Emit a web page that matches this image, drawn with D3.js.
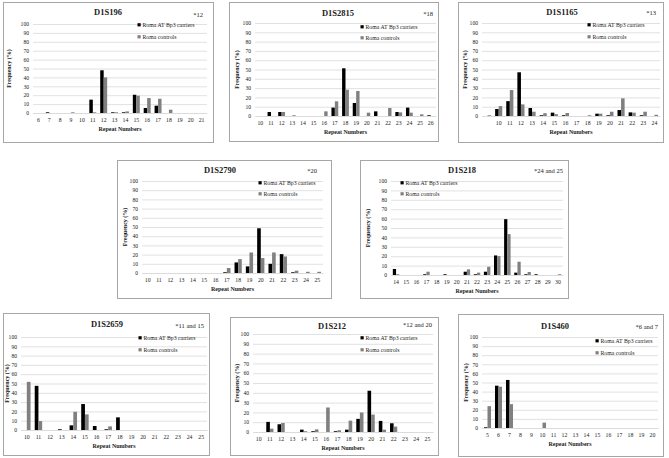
<!DOCTYPE html>
<html><head><meta charset="utf-8">
<script src="https://cdn.jsdelivr.net/npm/d3@7"></script>
<style>
html,body{margin:0;padding:0;background:#fff;}
svg text{font-family:"Liberation Serif","DejaVu Serif",serif;fill:#222;}
</style></head>
<body><svg id="c" width="669" height="458"></svg>
<script>
// ---- data ----
const seriesNames = ["Roma AT Bp3 carriers", "Roma controls"];
const yTicks = [0,10,20,30,40,50,60,70,80,90,100];

const d1s196Repeats = ["6","7","8","9","10","11","12","13","14","15","16","17","18","19","20","21"];
const d1s196Carriers = [0,0.8,0,0,0,15,48,0.8,0.8,20.5,5.6,8.2,0,0,0,0];
const d1s196Controls = [0,0,0,0.8,0,0.8,40,0.8,1.8,19.4,16.8,16,3.7,0,0,0];

const d1s2815Repeats = ["10","11","12","13","14","15","16","17","18","19","20","21","22","23","24","25","26"];
const d1s2815Carriers = [0,4.3,4.3,0,0,0,0,9,51.3,14,0,5,0,4.3,9,0,0.8];
const d1s2815Controls = [0,0,4.3,0.8,0,0,5,15.8,28.3,26.9,3.6,0,8.6,3.9,3.6,1.8,0];

const d1s1165Repeats = ["","10","11","12","13","14","15","16","17","18","19","20","21","22","23","24"];
const d1s1165Carriers = [0,7.5,16,47,8.6,0.8,3.6,0.8,0,0,2.5,0.8,6.4,3.9,0.8,0];
const d1s1165Controls = [0.8,10.7,27.9,12.5,4.6,3,2,3.2,0,0.8,2.5,4.6,19,3.6,4.6,1.3];

const d1s2790Repeats = ["10","11","12","13","14","15","16","17","18","19","20","21","22","23","24","25"];
const d1s2790Carriers = [0,0,0,0,0,0,0,0.8,11.5,7.2,48.6,10,20.5,0.8,0,0];
const d1s2790Controls = [0,0,0,0,0,0,0,5.4,15.1,22.3,16.2,22.3,18,2.5,1.3,1.3];

const d1s218Repeats = ["14","15","16","17","18","19","20","21","22","23","24","25","26","27","28","29","30"];
const d1s218Carriers = [6.4,0,0,0.8,0,0.8,0,3.5,0.8,3.5,20.8,59.4,2.5,0.8,0.8,0,0];
const d1s218Controls = [0.8,0,0,3.5,0,0,0,6,2.5,8.8,20.1,43.5,14.1,3.2,0,0,0.8];

const d1s2659Repeats = ["10","11","12","13","14","15","16","17","18","19","20","21","22","23","24","25"];
const d1s2659Carriers = [0,47.5,0,0.8,5,27.9,4.3,0.8,13.6,0,0,0,0,0,0,0];
const d1s2659Controls = [51.8,9.6,0,0,19.6,16.8,0,3.9,0,0,0,0,0,0,0,0];

const d1s212Repeats = ["10","11","12","13","14","15","16","17","18","19","20","21","22","23","24","25"];
const d1s212Carriers = [0,10.3,7.9,0,2.4,0.8,0,0.8,2.4,13.4,42.1,11.3,8.9,0,0,0];
const d1s212Controls = [0,3.4,9.2,0,0.8,2.7,25,1.8,11.6,19.9,17.8,2.4,5.5,0,0,0];

const d1s460Repeats = ["5","6","7","8","9","10","11","12","13","14","15","16","17","18","19","20"];
const d1s460Carriers = [0.8,46.5,52.8,0,0,0,0,0,0,0,0,0,0,0,0,0];
const d1s460Controls = [24,45.4,26.2,0,0,5.9,0,0,0,0,0,0,0,0,0,0];

const markerNames = ["D1S196","D1S2815","D1S1165","D1S2790","D1S218","D1S2659","D1S212","D1S460"];
const markerNotes = ["*12","*18","*13","*20","*24 and 25","*11 and 15","*12 and 20","*6 and 7"];

// ---- layout (positions only) ----
const layouts = [
  {box:[3,2,213,142],  plot:[33,207,24,113],  title:[108,12], leg:[139,25,37],  note:[203,15],  yt:9},
  {box:[229,2,438,141],plot:[255,436,23,116], title:[338,13], leg:[362,27,38],  note:[433,14],  yt:237},
  {box:[458,2,663,142],plot:[482,660,23,116], title:[562,12], leg:[589,25,37],  note:[656,13],  yt:465},
  {box:[117,160,331,298],plot:[142,323,181,273],title:[220,170],leg:[260,183,194],note:[317,171],yt:125},
  {box:[360,160,568,298],plot:[391,563,181,275],title:[462,170],leg:[402,183,194],note:[563,171],yt:368},
  {box:[3,313,209,455],plot:[21,207,337,430], title:[107,324],leg:[140,338,350],note:[204,326],yt:7},
  {box:[230,317,438,455],plot:[253,433,334,432],title:[332,326],leg:[362,338,350],note:[432,325],yt:237},
  {box:[458,314,663,456],plot:[482,658,337,428],title:[555,326],leg:[597,341,353],note:[658,327],yt:466}
];

const datasets = [
  [d1s196Repeats,d1s196Carriers,d1s196Controls],
  [d1s2815Repeats,d1s2815Carriers,d1s2815Controls],
  [d1s1165Repeats,d1s1165Carriers,d1s1165Controls],
  [d1s2790Repeats,d1s2790Carriers,d1s2790Controls],
  [d1s218Repeats,d1s218Carriers,d1s218Controls],
  [d1s2659Repeats,d1s2659Carriers,d1s2659Controls],
  [d1s212Repeats,d1s212Carriers,d1s212Controls],
  [d1s460Repeats,d1s460Carriers,d1s460Controls]
];

const colors = ["#000000","#808080"];
const svg = d3.select("#c");

datasets.forEach((ds,i)=>{
  const L = layouts[i];
  const [cats, carriers, controls] = ds;
  const g = svg.append("g");
  g.append("rect").attr("x",L.box[0]+0.5).attr("y",L.box[1]+0.5)
    .attr("width",L.box[2]-L.box[0]).attr("height",L.box[3]-L.box[1])
    .attr("fill","#fff").attr("stroke","#a6a6a6").attr("stroke-width",1);

  const x = d3.scaleBand().domain(d3.range(cats.length)).range([L.plot[0],L.plot[1]]).padding(0);
  const y = d3.scaleLinear().domain([0,100]).range([L.plot[3],L.plot[2]]);

  // gridlines
  const yAxis = d3.axisLeft(y).tickValues(yTicks).tickSize(-(L.plot[1]-L.plot[0])).tickPadding(4);
  const ya = g.append("g").attr("transform",`translate(${L.plot[0]},0)`).call(yAxis);
  ya.select(".domain").remove();
  ya.selectAll("line").attr("stroke","#d9d9d9").attr("stroke-width",0.8);
  ya.selectAll("text").attr("font-size",5.6).attr("fill","#333").attr("font-family","Liberation Serif");

  // x axis labels
  const xAxis = d3.axisBottom(x).tickFormat(j=>cats[j]).tickSize(0).tickPadding(5);
  const xa = g.append("g").attr("transform",`translate(0,${L.plot[3]})`).call(xAxis);
  xa.select(".domain").attr("stroke","#d9d9d9").attr("stroke-width",0.8);
  xa.selectAll("text").attr("font-size",5.8).attr("fill","#333").attr("font-family","Liberation Serif");

  const bw = x.bandwidth()*0.32;
  const vals = [carriers, controls];
  vals.forEach((arr,s)=>{
    g.append("g").selectAll("rect").data(arr.map((v,j)=>({v,j}))).join("rect")
      .attr("x",d=>x(d.j)+x.bandwidth()/2 + (s===0?-bw:0))
      .attr("width",bw)
      .attr("y",d=>y(d.v))
      .attr("height",d=>y(0)-y(d.v))
      .attr("fill",colors[s]);
  });

  // titles
  g.append("text").attr("x",L.title[0]).attr("y",L.title[1]+3).attr("text-anchor","middle")
    .attr("font-size",8.5).attr("font-weight","bold").text(markerNames[i]);
  g.append("text").attr("x",L.note[0]).attr("y",L.note[1]+2).attr("text-anchor","end")
    .attr("font-size",6.5).attr("fill","#555").text(markerNotes[i]);
  g.append("text").attr("x",(L.plot[0]+L.plot[1])/2).attr("y",L.plot[3]+17.5).attr("text-anchor","middle")
    .attr("font-size",6).attr("font-weight","bold").text("Repeat Numbers");
  g.append("text").attr("transform",`translate(${L.yt+2},${(L.plot[2]+L.plot[3])/2}) rotate(-90)`)
    .attr("text-anchor","middle").attr("font-size",6).attr("font-weight","bold").text("Frequency (%)");

  // legend
  seriesNames.forEach((n,s)=>{
    const ly = L.leg[1+s];
    g.append("rect").attr("x",L.leg[0]-1.5).attr("y",ly-1.8).attr("width",3.2).attr("height",3.2).attr("fill",colors[s]);
    g.append("text").attr("x",L.leg[0]+3.5).attr("y",ly+1.8).attr("font-size",5.8).attr("fill","#333").text(n);
  });
});
</script></body></html>
